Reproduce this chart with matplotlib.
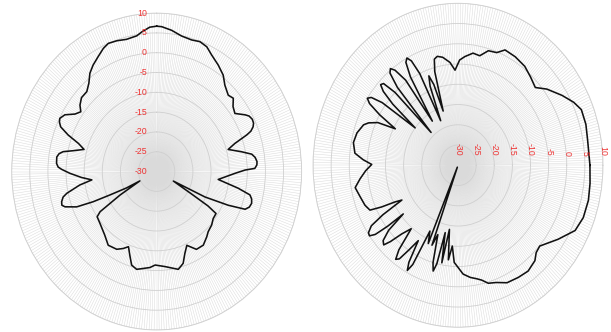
import numpy as np
import matplotlib.pyplot as plt

# E-plane cut: angle clockwise from boresight (top), gain in dB
e_angle = [0, 2.2, 6.6, 11.4, 16.2, 20, 23.7, 27.3, 32.3, 37, 40.8, 45.7, 48.8, 52.1,
           55.8, 59.6, 61.2, 63.4, 65.4, 67, 68.6, 69.6, 71.8, 74.2, 77.9, 80.5, 82.5,
           84.8, 86.5, 88.3, 89.1, 91.2, 96.7, 100.6, 102.9, 104.8, 107, 109.3, 111.3,
           113.3, 115.7, 117.5, 120.5, 121.5, 122.9, 127.3, 131.6, 136.9, 140, 145.3,
           150.8, 155.9, 159.4, 162.5, 166.4, 174.5, 181, 184.4, 192.6, 196.3, 199.3,
           202.3, 205.4, 209.3, 215.7, 221.8, 230, 235.2, 237, 239.6, 243, 243.6,
           245.4, 246.5, 248, 250.6, 252, 253.8, 256, 257.5, 260.9, 263.3, 265.9,
           268.9, 271.2, 272.4, 274.3, 277.6, 279.5, 281, 282.9, 285.6, 288.2, 290.7,
           293.1, 295, 296.7, 299.5, 302.8, 305.8, 308.4, 312, 316.3, 320, 323.4,
           326.9, 330.9, 334.7, 337.6, 341.6, 346, 350.9, 353.4, 357]
e_gain = [6.7, 6.6, 5.9, 4.9, 4.6, 4.9, 4.4, 3.1, 1.8, 0.5, -1.2, -2.4, -1.9, -3.3,
          -3.9, -1.7, -0.9, -0.5, -0.6, -1.1, -2.1, -3.5, -7.3, -9.5, -6.1, -3.4, -2.6,
          -2.2, -2.3, -2.9, -5.6, -8.4, -12.9, -7.1, -3.6, -2.9, -2.6, -2.9, -3.8,
          -8.5, -15.2, -24.8, -18.7, -13.4, -10.5, -10.4, -9.7, -9.2, -8.5, -7.4,
          -7.5, -9.6, -7.9, -5.7, -4.6, -5.9, -6.4, -5.7, -4.7, -5.4, -7.6,
          -9.5, -8.5, -7.5, -7.1, -8.5, -9.6, -10, -11.4, -18.3, -24.8, -20.7,
          -15.8, -10.9, -6.2, -3.2, -2.5, -2.7, -3.4, -4.6, -8.5, -12, -9.2,
          -6.1, -3.8, -2.8, -2.3, -2.2, -2.7, -3.7, -6.4, -9.2, -7.3, -3.9,
          -1.2, -0.4, -0.1, -0.9, -3.2, -4.2, -3, -2.1, -2.1, -0.9, 0.9,
          2.1, 3.2, 4.4, 5, 4.8, 4.4, 4.7, 5.5, 6.5]

# H-plane cut: angle counter-clockwise from boresight (right), gain in dB
h_angle = [0, 10, 16, 22, 26, 31, 37.5, 42, 47.5, 53, 59.5, 65.5, 69, 73.5, 77.5, 81.5,
           86, 89, 92, 95, 99, 102, 104, 105.5, 107, 108.5, 110, 111.5, 113.5,
           115, 116.5, 118, 119.5, 121, 123, 124.5, 126.5, 128, 129.5, 131, 132.5,
           134, 135.5, 137, 138.5, 140, 142, 143.5, 145, 146.5, 148, 150, 152.5,
           154.5, 157, 159, 164, 169, 174, 177, 179.5, 183, 187, 191, 196, 201,
           204.5, 206, 207.5, 209, 210.5, 212, 214, 215.5, 216.8, 217.8, 218.5,
           220, 222, 223.8, 225.3, 227.5, 230.5, 232, 233.5, 235, 237, 239.5,
           240.5, 241.7, 243, 244.5, 247, 248.5, 250, 252, 254, 255.3, 256.5,
           258, 259.5, 261.5, 263.5, 265.5, 267.5, 270, 273, 277, 280.5, 283,
           286, 290, 295, 301, 306.5, 312, 315, 318.5, 326.5, 333.5, 339.5,
           346.5, 353]
h_gain = [6.4, 6.3, 6.7, 6.7, 5.5, 3.5, 0.9, -1.3, -0.4, 0.6, 1.1, 1.3, -0.2, -0.5, -2.3, -2.0,
          -3.1, -4.0, -6.5, -4.5, -3.0, -2.5, -3.0, -6, -16, -9, -6.5, -9, -18,
          -5, -1.2, 0, -0.8, -4.5, -17, -4.5, -0.8, 0.3, -0.5, -4.5, -19,
          -5, -1.2, -0.8, -2.5, -6.5, -15, -4, -0.8, 0, -1.2, -5, -10.5,
          -5.5, -3.2, -2.1, -1.0, -0.6, -1.4, -3.8, -6.2, -4.5, -2.8, -1.1, -1.9, -2.5,
          -3.3, -6.5, -10.4, -12.3, -6, -1.8, -0.2, 0, -1.5, -5.5, -10.7,
          -5, -2.2, -1.6, -3.5, -7, -9.7, -3.5, -1.1, -1.8, -5, -8.4,
          -2.5, -0.5, -2.5, -12, -9, -29.5, -9, -12, -5, -3, -5,
          -13, -5.5, -14, -6.5, -10, -6, -4.8, -3.1, -2.1, -1.5, -0.9,
          0.3, 0.8, 2.0, 2.3, 2.5, 1.7, 0.5, 0.1, 3.1, 6.1, 6.9,
          7.0, 6.7]

r_ticks = [-30, -25, -20, -15, -10, -5, 0, 5, 10]


def style_polar(ax):
    ax.set_aspect('auto')
    ax.set_ylim(-30, 10)
    ax.set_xticks(np.deg2rad(np.arange(0, 360, 1)))
    ax.set_xticklabels([])
    ax.set_yticks(r_ticks)
    ax.set_yticklabels([])
    ax.tick_params(length=0)
    ax.xaxis.grid(True, color='#dadada', lw=0.35)
    ax.yaxis.grid(True, color='#cfcfcf', lw=0.6)
    ax.spines['polar'].set_color('#d0d0d0')
    ax.spines['polar'].set_linewidth(0.6)


def closed(angle, gain):
    th = np.deg2rad(np.r_[angle, angle[0] + 360])
    return th, np.r_[gain, gain[0]]


fig = plt.figure(figsize=(6.11, 3.32), dpi=100)
label_kw = dict(color='#ee3333', fontsize=6.3, family='Liberation Sans', zorder=5)
line_kw = dict(color='#111111', lw=1.15, solid_joinstyle='round')

ax1 = fig.add_axes([0.0191, 0.006, 0.4746, 0.9545], projection='polar')
ax1.set_theta_zero_location('N')
ax1.set_theta_direction(-1)
style_polar(ax1)
ax1.plot(*closed(e_angle, e_gain), **line_kw)
for t in r_ticks:
    ax1.annotate(str(t), xy=(0, t), xytext=(-7, 0), textcoords='offset points',
                 ha='right', va='center', **label_kw)

ax2 = fig.add_axes([0.5123, 0.0142, 0.4746, 0.9759], projection='polar')
ax2.set_theta_zero_location('E')
ax2.set_theta_direction(1)
style_polar(ax2)
ax2.plot(*closed(h_angle, h_gain), **line_kw)
for t in r_ticks:
    ax2.annotate(str(t), xy=(0, t), xytext=(0, 7), textcoords='offset points',
                 rotation=-90, rotation_mode='anchor', ha='right', va='center',
                 **label_kw)

fig.savefig('out.png', dpi=100)
